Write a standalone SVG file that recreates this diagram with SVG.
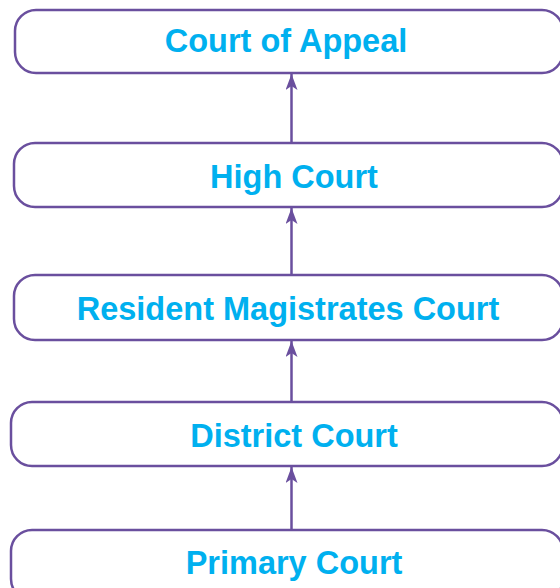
<svg xmlns="http://www.w3.org/2000/svg" width="560" height="588" viewBox="0 0 560 588">
<defs>
<style>
.box{fill:#ffffff;stroke:#6a4f9e;stroke-width:2.5}
.lbl{font-family:"Liberation Sans",Arial,sans-serif;font-weight:bold;font-size:32.5px;fill:#00b0ef;text-anchor:middle}
.conn{stroke:#6a4f9e;stroke-width:2.5;fill:none}
</style>
<marker id="arr" viewBox="0 0 16 12" refX="16" refY="6" markerWidth="16" markerHeight="12" markerUnits="userSpaceOnUse" orient="auto">
<path d="M0,0 L16,6 L0,12 L4,6 Z" fill="#6a4f9e"/>
</marker>
</defs>
<rect width="560" height="588" fill="#ffffff"/>
<g id="connectors">
<line class="conn" x1="291.5" y1="143" x2="291.5" y2="74" marker-end="url(#arr)"/>
<line class="conn" x1="291.5" y1="275" x2="291.5" y2="208" marker-end="url(#arr)"/>
<line class="conn" x1="291.5" y1="402" x2="291.5" y2="341" marker-end="url(#arr)"/>
<line class="conn" x1="291.5" y1="530" x2="291.5" y2="467" marker-end="url(#arr)"/>
</g>
<g id="court-of-appeal">
<rect class="box" x="15" y="10" width="548" height="63" rx="21"/>
<text class="lbl" x="286" y="52">Court of Appeal</text>
</g>
<g id="high-court">
<rect class="box" x="14" y="143" width="549" height="64" rx="21"/>
<text class="lbl" x="294" y="188">High Court</text>
</g>
<g id="resident-magistrates-court">
<rect class="box" x="14" y="275" width="549" height="65" rx="21"/>
<text class="lbl" x="288" y="320">Resident Magistrates Court</text>
</g>
<g id="district-court">
<rect class="box" x="11" y="402" width="552" height="64" rx="21"/>
<text class="lbl" x="294" y="447">District Court</text>
</g>
<g id="primary-court">
<rect class="box" x="11" y="530" width="552" height="70" rx="21"/>
<text class="lbl" x="294" y="574">Primary Court</text>
</g>
</svg>
